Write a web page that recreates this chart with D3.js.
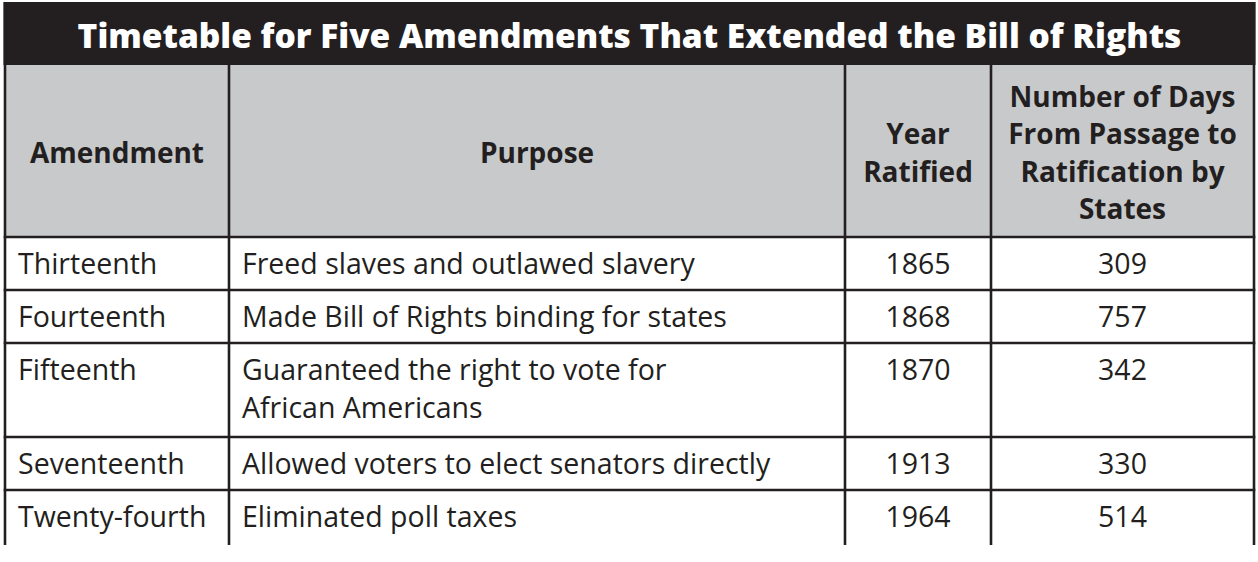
<!DOCTYPE html>
<html><head><meta charset="utf-8">
<script src="https://cdn.jsdelivr.net/npm/d3@7"></script>
<style>
html,body{margin:0;padding:0;background:#fff;}
svg{display:block;}
</style></head>
<body>
<svg id="c" width="1258" height="562"></svg>
<script>
const title = "Timetable for Five Amendments That Extended the Bill of Rights";
const headers = [["Amendment"], ["Purpose"], ["Year", "Ratified"], ["Number of Days", "From Passage to", "Ratification by", "States"]];
const amendments = ["Thirteenth", "Fourteenth", "Fifteenth", "Seventeenth", "Twenty-fourth"];
const purposes = [
  ["Freed slaves and outlawed slavery"],
  ["Made Bill of Rights binding for states"],
  ["Guaranteed the right to vote for", "African Americans"],
  ["Allowed voters to elect senators directly"],
  ["Eliminated poll taxes"]
];
const yearsRatified = [1865, 1868, 1870, 1913, 1964];
const daysToRatify = [309, 757, 342, 330, 514];

const svg = d3.select("#c");
const ink = "#231f20";
const fontFamily = "'Open Sans', 'Noto Sans', sans-serif";

// column layout via scale
const colEdges = [5, 229, 845, 991, 1254];
const colScale = d3.scaleOrdinal().domain(d3.range(4)).range(d3.range(4).map(i => [colEdges[i], colEdges[i + 1]]));

const titleTop = 2, titleBottom = 65, headBottom = 237;
const lineH = 38;
const rows = amendments.map((a, i) => ({
  cells: [[a], purposes[i], [String(yearsRatified[i])], [String(daysToRatify[i])]],
  lines: purposes[i].length
}));
const rowHeights = rows.map((r, i) => i === rows.length - 1 ? 55 : 53 + (r.lines - 1) * 41);
const rowTops = [];
rowHeights.reduce((acc, h) => { rowTops.push(acc); return acc + h; }, headBottom);
const tableBottom = rowTops[rowTops.length - 1] + rowHeights[rowHeights.length - 1];

// title band
svg.append("rect").attr("x", colEdges[0] - 1.5).attr("y", titleTop)
  .attr("width", colEdges[4] - colEdges[0] + 3).attr("height", titleBottom - titleTop).attr("fill", ink);
svg.append("text").attr("x", (colEdges[0] + colEdges[4]) / 2).attr("y", 47.5)
  .attr("text-anchor", "middle").attr("fill", "#fff")
  .style("font-family", fontFamily).style("font-weight", 800).style("font-size", "33.5px")
  .text(title);

// header band
svg.append("rect").attr("x", colEdges[0]).attr("y", titleBottom)
  .attr("width", colEdges[4] - colEdges[0]).attr("height", headBottom - titleBottom).attr("fill", "#c8c9cb");

const headCenter = 152.5, headLine = 37.5, headCap = 21;
headers.forEach((lines, ci) => {
  const [x0, x1] = colScale(ci);
  const t = svg.append("text").attr("text-anchor", "middle").attr("fill", ink)
    .style("font-family", fontFamily).style("font-weight", 700).style("font-size", "28px");
  const first = headCenter - (lines.length - 1) / 2 * headLine + headCap / 2;
  lines.forEach((ln, li) => {
    t.append("tspan").attr("x", (x0 + x1) / 2).attr("y", first + li * headLine).text(ln);
  });
});

// body rows
rows.forEach((r, ri) => {
  const top = rowTops[ri];
  r.cells.forEach((lines, ci) => {
    const [x0, x1] = colScale(ci);
    const centered = ci >= 2;
    const t = svg.append("text").attr("fill", ink)
      .attr("text-anchor", centered ? "middle" : "start")
      .style("font-family", fontFamily).style("font-size", "28.5px");
    lines.forEach((ln, li) => {
      t.append("tspan").attr("x", centered ? (x0 + x1) / 2 : x0 + 13)
        .attr("y", top + 37 + li * lineH).text(ln);
    });
  });
});

// grid lines
const g = svg.append("g").attr("stroke", ink).attr("stroke-width", 2.6).attr("fill", "none");
[headBottom, ...rowTops.slice(1)].forEach(y => {
  g.append("line").attr("x1", colEdges[0] - 1.3).attr("x2", colEdges[4] + 1.3).attr("y1", y).attr("y2", y);
});
colEdges.forEach((x, i) => {
  g.append("line").attr("x1", x).attr("x2", x)
    .attr("y1", (i === 0 || i === 4) ? titleTop : titleBottom).attr("y2", tableBottom);
});
</script>
</body></html>
